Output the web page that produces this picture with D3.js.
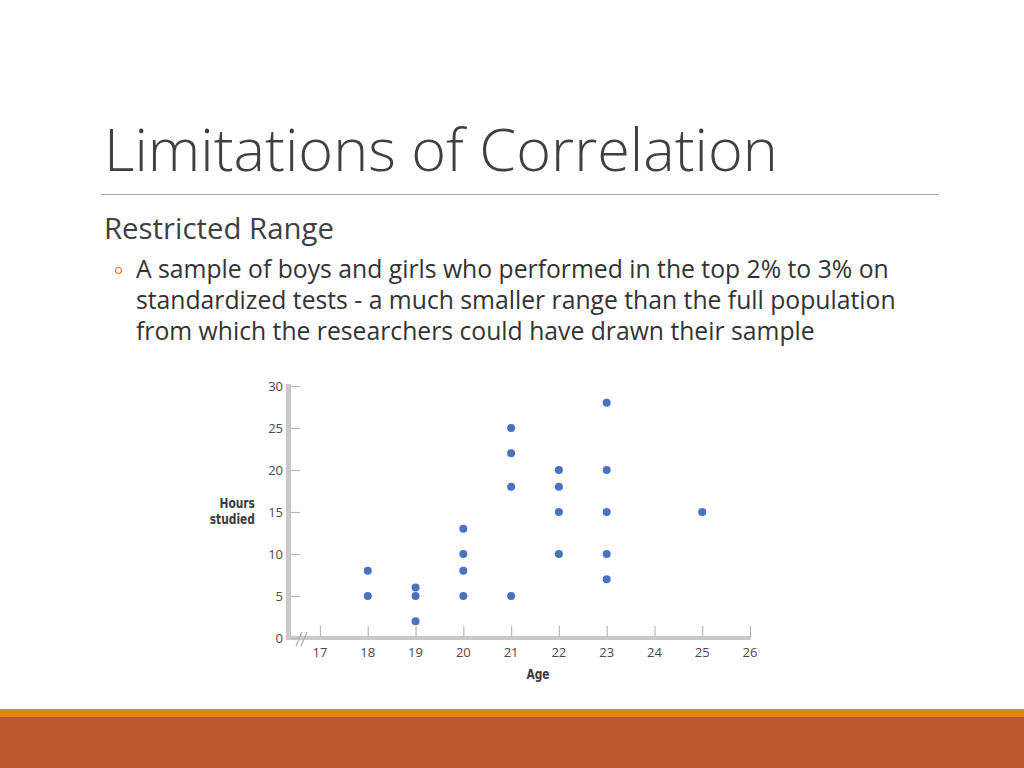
<!DOCTYPE html>
<html><head><meta charset="utf-8">
<script src="https://cdn.jsdelivr.net/npm/d3@7"></script>
<style>body{margin:0;background:#fff;overflow:hidden}svg{display:block}</style>
</head><body>
<svg id="c" width="1024" height="768"></svg>
<script>
// ---- data ----
const ages = [18, 18, 19, 19, 19, 20, 20, 20, 20, 21, 21, 21, 21, 22, 22, 22, 22, 23, 23, 23, 23, 23, 25];
const hours = [8, 5, 6, 5, 2, 13, 10, 8, 5, 25, 22, 18, 5, 20, 18, 15, 10, 28, 20, 15, 10, 7, 15];
const xTicks = [17, 18, 19, 20, 21, 22, 23, 24, 25, 26];
const yTicks = [0, 5, 10, 15, 20, 25, 30];
const titleText = "Limitations of Correlation";
const subText = "Restricted Range";
const bulletLines = [
  "A sample of boys and girls who performed in the top 2% to 3% on",
  "standardized tests - a much smaller range than the full population",
  "from which the researchers could have drawn their sample"
];
const xLabel = "Age";
const yLabel = ["Hours", "studied"];

const svg = d3.select("#c");
const textFont = "Open Sans, Lato, sans-serif";

function fit(sel, target) {
  const w = sel.node().getComputedTextLength();
  const fs = parseFloat(sel.attr("font-size"));
  sel.attr("font-size", fs * target / w);
  return fs * target / w;
}

// ---- slide decoration ----
const title = svg.append("text").attr("x", 104).attr("y", 171)
  .attr("font-family", textFont).attr("font-weight", 300)
  .attr("font-size", 54).attr("fill", "#404040").text(titleText);
fit(title, 674);

svg.append("line").attr("x1", 101).attr("x2", 938).attr("y1", 194.5).attr("y2", 194.5)
  .attr("stroke", "#a6a6a6").attr("stroke-width", 1);

const sub = svg.append("text").attr("x", 104).attr("y", 239)
  .attr("font-family", textFont).attr("font-size", 27).attr("fill", "#404040").text(subText);
fit(sub, 230);

svg.append("circle").attr("cx", 118.5).attr("cy", 270.5).attr("r", 3)
  .attr("fill", "none").attr("stroke", "#e0861a").attr("stroke-width", 1.2);

const bl = svg.append("text").attr("font-family", textFont).attr("font-size", 22).attr("fill", "#333");
bulletLines.forEach((t, i) => {
  bl.append("tspan").attr("x", 136).attr("y", 278 + i * 31).text(t);
});
{
  const first = bl.select("tspan").node();
  const w = first.getComputedTextLength();
  bl.attr("font-size", 22 * 753 / w);
}

svg.append("rect").attr("x", 0).attr("y", 709).attr("width", 1024).attr("height", 8).attr("fill", "#df8619");
svg.append("rect").attr("x", 0).attr("y", 717).attr("width", 1024).attr("height", 51).attr("fill", "#bd582c");

// ---- chart ----
const x = d3.scaleLinear().domain([17, 26]).range([320, 750]);
const y = d3.scaleLinear().domain([0, 30]).range([638, 386]);
const axisCol = "#c9c9c9";
const chartFont = "Open Sans, DejaVu Sans, sans-serif";

const g = svg.append("g");

// y axis bar
g.append("line").attr("x1", 288.5).attr("x2", 288.5).attr("y1", y(30) - 2).attr("y2", y(0) + 2)
  .attr("stroke", axisCol).attr("stroke-width", 5);
// x axis bar
g.append("line").attr("x1", 286).attr("x2", x(26) + 1).attr("y1", y(0)).attr("y2", y(0))
  .attr("stroke", axisCol).attr("stroke-width", 4);

// y ticks (right of bar) and labels
const yAx = d3.axisRight(y).tickValues(yTicks).tickSize(9).tickFormat("");
const gy = g.append("g").attr("transform", "translate(291,0)").call(yAx);
gy.select(".domain").remove();
gy.selectAll(".tick line").attr("stroke", "#b8b8b8").attr("stroke-width", 1.2);
g.selectAll(".ylab").data(yTicks).join("text")
  .attr("x", 283).attr("y", d => y(d) + 5).attr("text-anchor", "end")
  .attr("font-family", chartFont).attr("font-size", 13).attr("fill", "#4a4a4a").text(d => d);

// x ticks (up from bar) and labels
const xAx = d3.axisTop(x).tickValues(xTicks).tickSize(11).tickFormat("");
const gx = g.append("g").attr("transform", `translate(0,${y(0) - 1})`).call(xAx);
gx.select(".domain").remove();
gx.selectAll(".tick line").attr("stroke", "#b8b8b8").attr("stroke-width", 1.2);
g.selectAll(".xlab").data(xTicks).join("text")
  .attr("x", d => x(d)).attr("y", 657).attr("text-anchor", "middle")
  .attr("font-family", chartFont).attr("font-size", 13).attr("fill", "#4a4a4a").text(d => d);

// axis break marks
[0, 5].forEach(dx => {
  g.append("line").attr("x1", 296 + dx).attr("y1", 646).attr("x2", 302 + dx).attr("y2", 632)
    .attr("stroke", "#b0b0b0").attr("stroke-width", 1.3);
});

// axis titles
g.append("text").attr("x", 538).attr("y", 679).attr("text-anchor", "middle")
  .attr("font-family", "DejaVu Sans Condensed, DejaVu Sans, sans-serif").attr("font-weight", "bold")
  .attr("font-size", 14.5).attr("fill", "#3c3c3c").attr("transform", "translate(538,0) scale(0.82,1) translate(-538,0)")
  .text(xLabel);
yLabel.forEach((t, i) => {
  g.append("text").attr("x", 255).attr("y", 508 + i * 16).attr("text-anchor", "end")
    .attr("font-family", "DejaVu Sans Condensed, DejaVu Sans, sans-serif").attr("font-weight", "bold")
    .attr("font-size", 14.5).attr("fill", "#3c3c3c")
    .attr("transform", `translate(255,0) scale(0.82,1) translate(-255,0)`)
    .text(t);
});

// points
g.selectAll("circle.pt").data(ages.map((a, i) => [a, hours[i]])).join("circle")
  .attr("class", "pt").attr("cx", d => x(d[0])).attr("cy", d => y(d[1])).attr("r", 4)
  .attr("fill", "#4a72c0");
</script>
</body></html>
